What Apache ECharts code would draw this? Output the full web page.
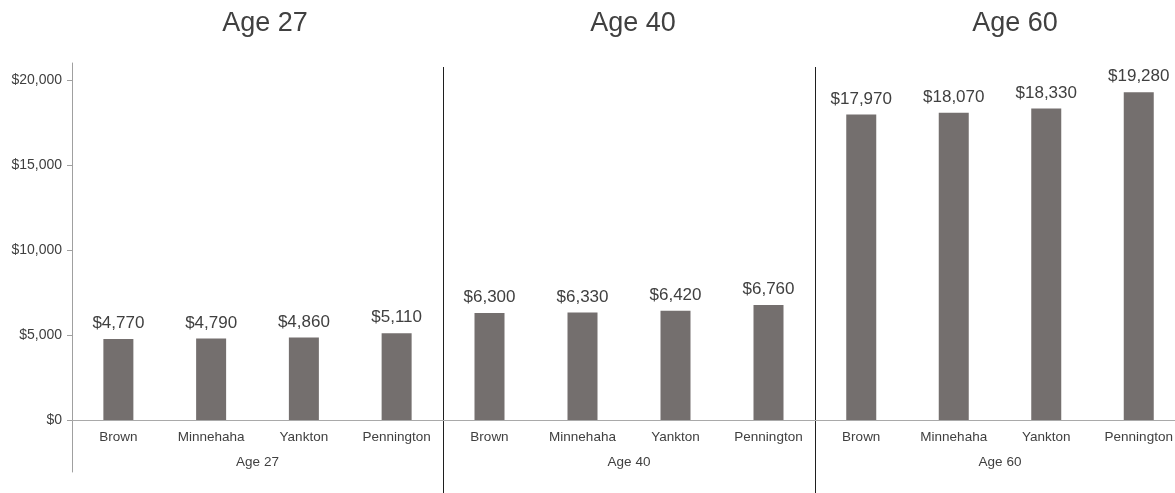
<!DOCTYPE html>
<html>
<head>
<meta charset="utf-8">
<script src="https://cdn.jsdelivr.net/npm/echarts@6/dist/echarts.min.js"></script>
<style>
html,body{margin:0;padding:0;background:#fff;}
#chart{width:1175px;height:493px;}
</style>
</head>
<body>
<div id="chart"></div>
<script>
// ---- data ----
const categories = ['Brown', 'Minnehaha', 'Yankton', 'Pennington'];
const groupNames = ['Age 27', 'Age 40', 'Age 60'];
const age27 = [4770, 4790, 4860, 5110];
const age40 = [6300, 6330, 6420, 6760];
const age60 = [17970, 18070, 18330, 19280];

// ---- layout / style ----
const seriesData = [age27, age40, age60];
const gridLefts = [72, 443, 815];
const gridWidths = [371, 372, 370];
const titleCenters = [265, 633, 1015];
const gridTop = 80, gridHeight = 340;   // 0 .. 20000
const yMin = 0, yMax = 20000, yInterval = 5000;
const FONT = '"Liberation Sans", Arial, sans-serif';
const TXT = '#404040';
const BAR = '#746f6e';

const money = v => '$' + Number(v).toLocaleString('en-US');

const grids = [], xAxes = [], yAxes = [], series = [], titles = [], graphics = [];
groupNames.forEach((g, i) => {
  grids.push({left: gridLefts[i], width: gridWidths[i], top: gridTop, height: gridHeight,
              containLabel: false, outerBoundsMode: 'none'});
  titles.push({
    text: g, left: titleCenters[i], top: 10, textAlign: 'center', padding: 0,
    textStyle: {fontFamily: FONT, fontSize: 27, fontWeight: 'normal', color: TXT}
  });
  xAxes.push({
    type: 'category', gridIndex: i, data: categories, position: 'bottom',
    axisLine: {show: true, onZero: false, lineStyle: {color: '#a9a9a9', width: 1}},
    axisTick: {show: false},
    axisLabel: {fontFamily: FONT, fontSize: 13.5, color: TXT, margin: 10, interval: 0},
    splitLine: {show: false},
    name: g, nameLocation: 'middle', nameGap: 35,
    nameTextStyle: {fontFamily: FONT, fontSize: 13.5, color: TXT}
  });
  yAxes.push({
    type: 'value', gridIndex: i, min: yMin, max: yMax, interval: yInterval,
    show: i === 0,
    axisLine: {show: false},
    axisTick: {show: true, length: 5, lineStyle: {color: '#a0a0a0'}},
    axisLabel: {formatter: money, fontFamily: FONT, fontSize: 14, color: TXT, margin: 10},
    splitLine: {show: false}
  });
  series.push({
    type: 'bar', xAxisIndex: i, yAxisIndex: i, data: seriesData[i],
    barWidth: 30,
    itemStyle: {color: BAR},
    label: {show: true, position: 'top', distance: 7, formatter: p => money(p.value),
            fontFamily: FONT, fontSize: 17, color: TXT},
    emphasis: {disabled: true},
    animation: false
  });
  if (i > 0) {
    graphics.push({
      type: 'line', shape: {x1: gridLefts[i] + 0.5, y1: 67, x2: gridLefts[i] + 0.5, y2: 493},
      style: {stroke: '#1f1f1f', lineWidth: 1}
    });
  }
});

// extra frame-only grid to draw the long vertical value-axis line (63 .. 472)
grids.push({left: gridLefts[0], width: gridWidths[0], top: 63, height: 409, outerBoundsMode: 'none'});
xAxes.push({type: 'category', gridIndex: 3, show: false, data: categories});
yAxes.push({
  type: 'value', gridIndex: 3, min: 0, max: 1,
  axisLine: {show: true, lineStyle: {color: '#a0a0a0', width: 1}},
  axisTick: {show: false}, axisLabel: {show: false}, splitLine: {show: false}
});

const chart = echarts.init(document.getElementById('chart'), null, {renderer: 'canvas'});
chart.setOption({
  backgroundColor: '#ffffff',
  animation: false,
  title: titles,
  grid: grids,
  xAxis: xAxes,
  yAxis: yAxes,
  series: series,
  graphic: graphics
});
</script>
</body>
</html>
